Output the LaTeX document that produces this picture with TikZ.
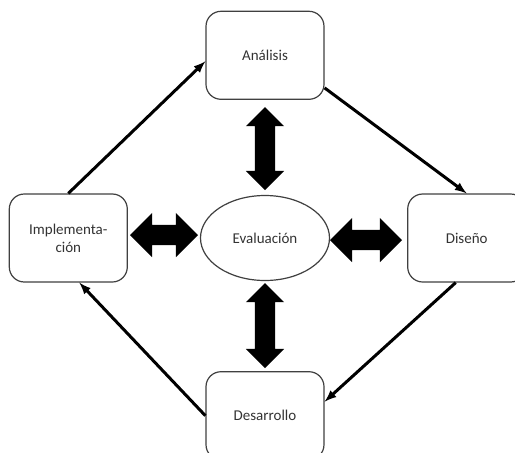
\documentclass[tikz,border=0pt]{standalone}
\usepackage{fontspec}
\setmainfont{Carlito}
\usetikzlibrary{shapes,arrows,positioning}

\begin{document}
\begin{tikzpicture}[x=1pt, y=1pt, font=\fontsize{15}{18}\selectfont,
  stagebox/.style={draw=black!75, line width=1.2pt, rounded corners=15pt, fill=white,
    minimum width=118pt, minimum height=88pt, align=center, text=black!80},
  flow/.style={-latex, line width=3pt},
  bigarrow/.style={double arrow, fill=black, inner xsep=0pt, inner ysep=10pt,
    double arrow head extend=12pt}]
\useasboundingbox (0,0) rectangle (515,-453);
\node[draw=black!75, line width=1.2pt, ellipse, minimum width=129pt, minimum height=85pt, text=black!80] (ev) at (265,-238) {Evaluación};
\node[stagebox, above=95pt of ev] (an) {Análisis};
\node[stagebox, left=72pt of ev] (im) {Implementa-\\ción};
\node[stagebox, right=77pt of ev] (di) {Diseño};
\node[stagebox, below=90pt of ev] (de) {Desarrollo};
% block arrows around the evaluation
\node[bigarrow, rotate=90, minimum height=83pt, double arrow head extend=9pt] (up) at (265,-148.5) {};
\node[bigarrow, minimum height=68pt] (lft) at (164,-235) {};
\node[bigarrow, minimum height=72pt] (rgt) at (366,-240) {};
\node[bigarrow, rotate=90, minimum height=85pt, double arrow head extend=9pt] (dn) at (265,-325.5) {};
% cycle
\draw[flow] (im.north) -- ([yshift=-6pt]an.west);
\draw[flow] ([yshift=12pt]an.south east) -- (di.north);
\draw[flow] ([xshift=-11pt]di.south) -- ([yshift=14pt]de.east);
\draw[flow] (de.west) -- ([xshift=11pt]im.south);
\end{tikzpicture}
\end{document}
